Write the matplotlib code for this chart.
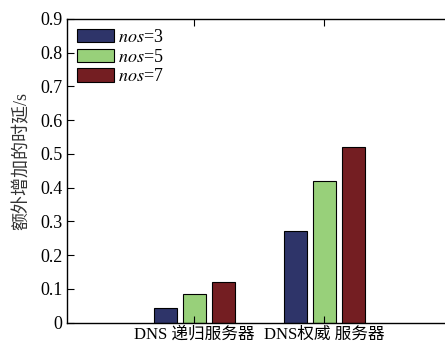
import matplotlib
matplotlib.use("Agg")
import matplotlib.pyplot as plt
import numpy as np

plt.rcParams['font.family'] = ['Liberation Serif', 'Noto Sans CJK SC']
plt.rcParams['mathtext.fontset'] = 'stix'

categories = ["DNS 递归服务器", "DNS权威 服务器"]
series_labels = [r"$\mathit{nos}$=3", r"$\mathit{nos}$=5", r"$\mathit{nos}$=7"]
nos3 = [0.045, 0.272]
nos5 = [0.085, 0.421]
nos7 = [0.122, 0.520]
yticks = [0, 0.1, 0.2, 0.3, 0.4, 0.5, 0.6, 0.7, 0.8, 0.9]
ytick_labels = ["0", "0.1", "0.2", "0.3", "0.4", "0.5", "0.6", "0.7", "0.8", "0.9"]
colors = ["#2e3469", "#98d07a", "#741e22"]

W, H = 445, 343
fig = plt.figure(figsize=(W / 100, H / 100), dpi=100)
ax = fig.add_axes([66.7 / W, (H - 322.7) / H, 1 - 66.7 / W, (322.7 - 19) / H])

x = np.array([1, 2])
width = 0.18
offset = 0.223
for i, (vals, lab, c) in enumerate(zip([nos3, nos5, nos7], series_labels, colors)):
    ax.bar(x + (i - 1) * offset, vals, width, color=c, edgecolor='black',
           linewidth=0.8, label=lab)

ax.set_xlim(0.017, 2.927)
ax.set_ylim(0, 0.9)
ax.set_yticks(yticks)
ax.set_yticklabels(ytick_labels, fontsize=13)
ax.set_xticks(x)
ax.set_xticklabels(categories, fontsize=12)
ax.tick_params(axis='both', direction='in', top=True, right=False, length=5, width=0.8, pad=3)
ax.spines['right'].set_visible(False)
for s in ['left', 'top', 'bottom']:
    ax.spines[s].set_linewidth(1.0)

ax.set_ylabel("额外增加的时延/s", fontsize=13, color='#333333')
ax.yaxis.label.set_va('center')
ax.yaxis.set_label_coords(-(66.7 - 22) / (W - 66.7), (322.7 - 161) / (322.7 - 19))

leg = ax.legend(loc='upper left', bbox_to_anchor=(0.0, 1.0), frameon=False,
                fontsize=13, handlelength=2.05, handleheight=0.75,
                labelspacing=0.15, handletextpad=0.25, borderpad=0.55,
                borderaxespad=0.0)

fig.savefig("out.png", dpi=100)
